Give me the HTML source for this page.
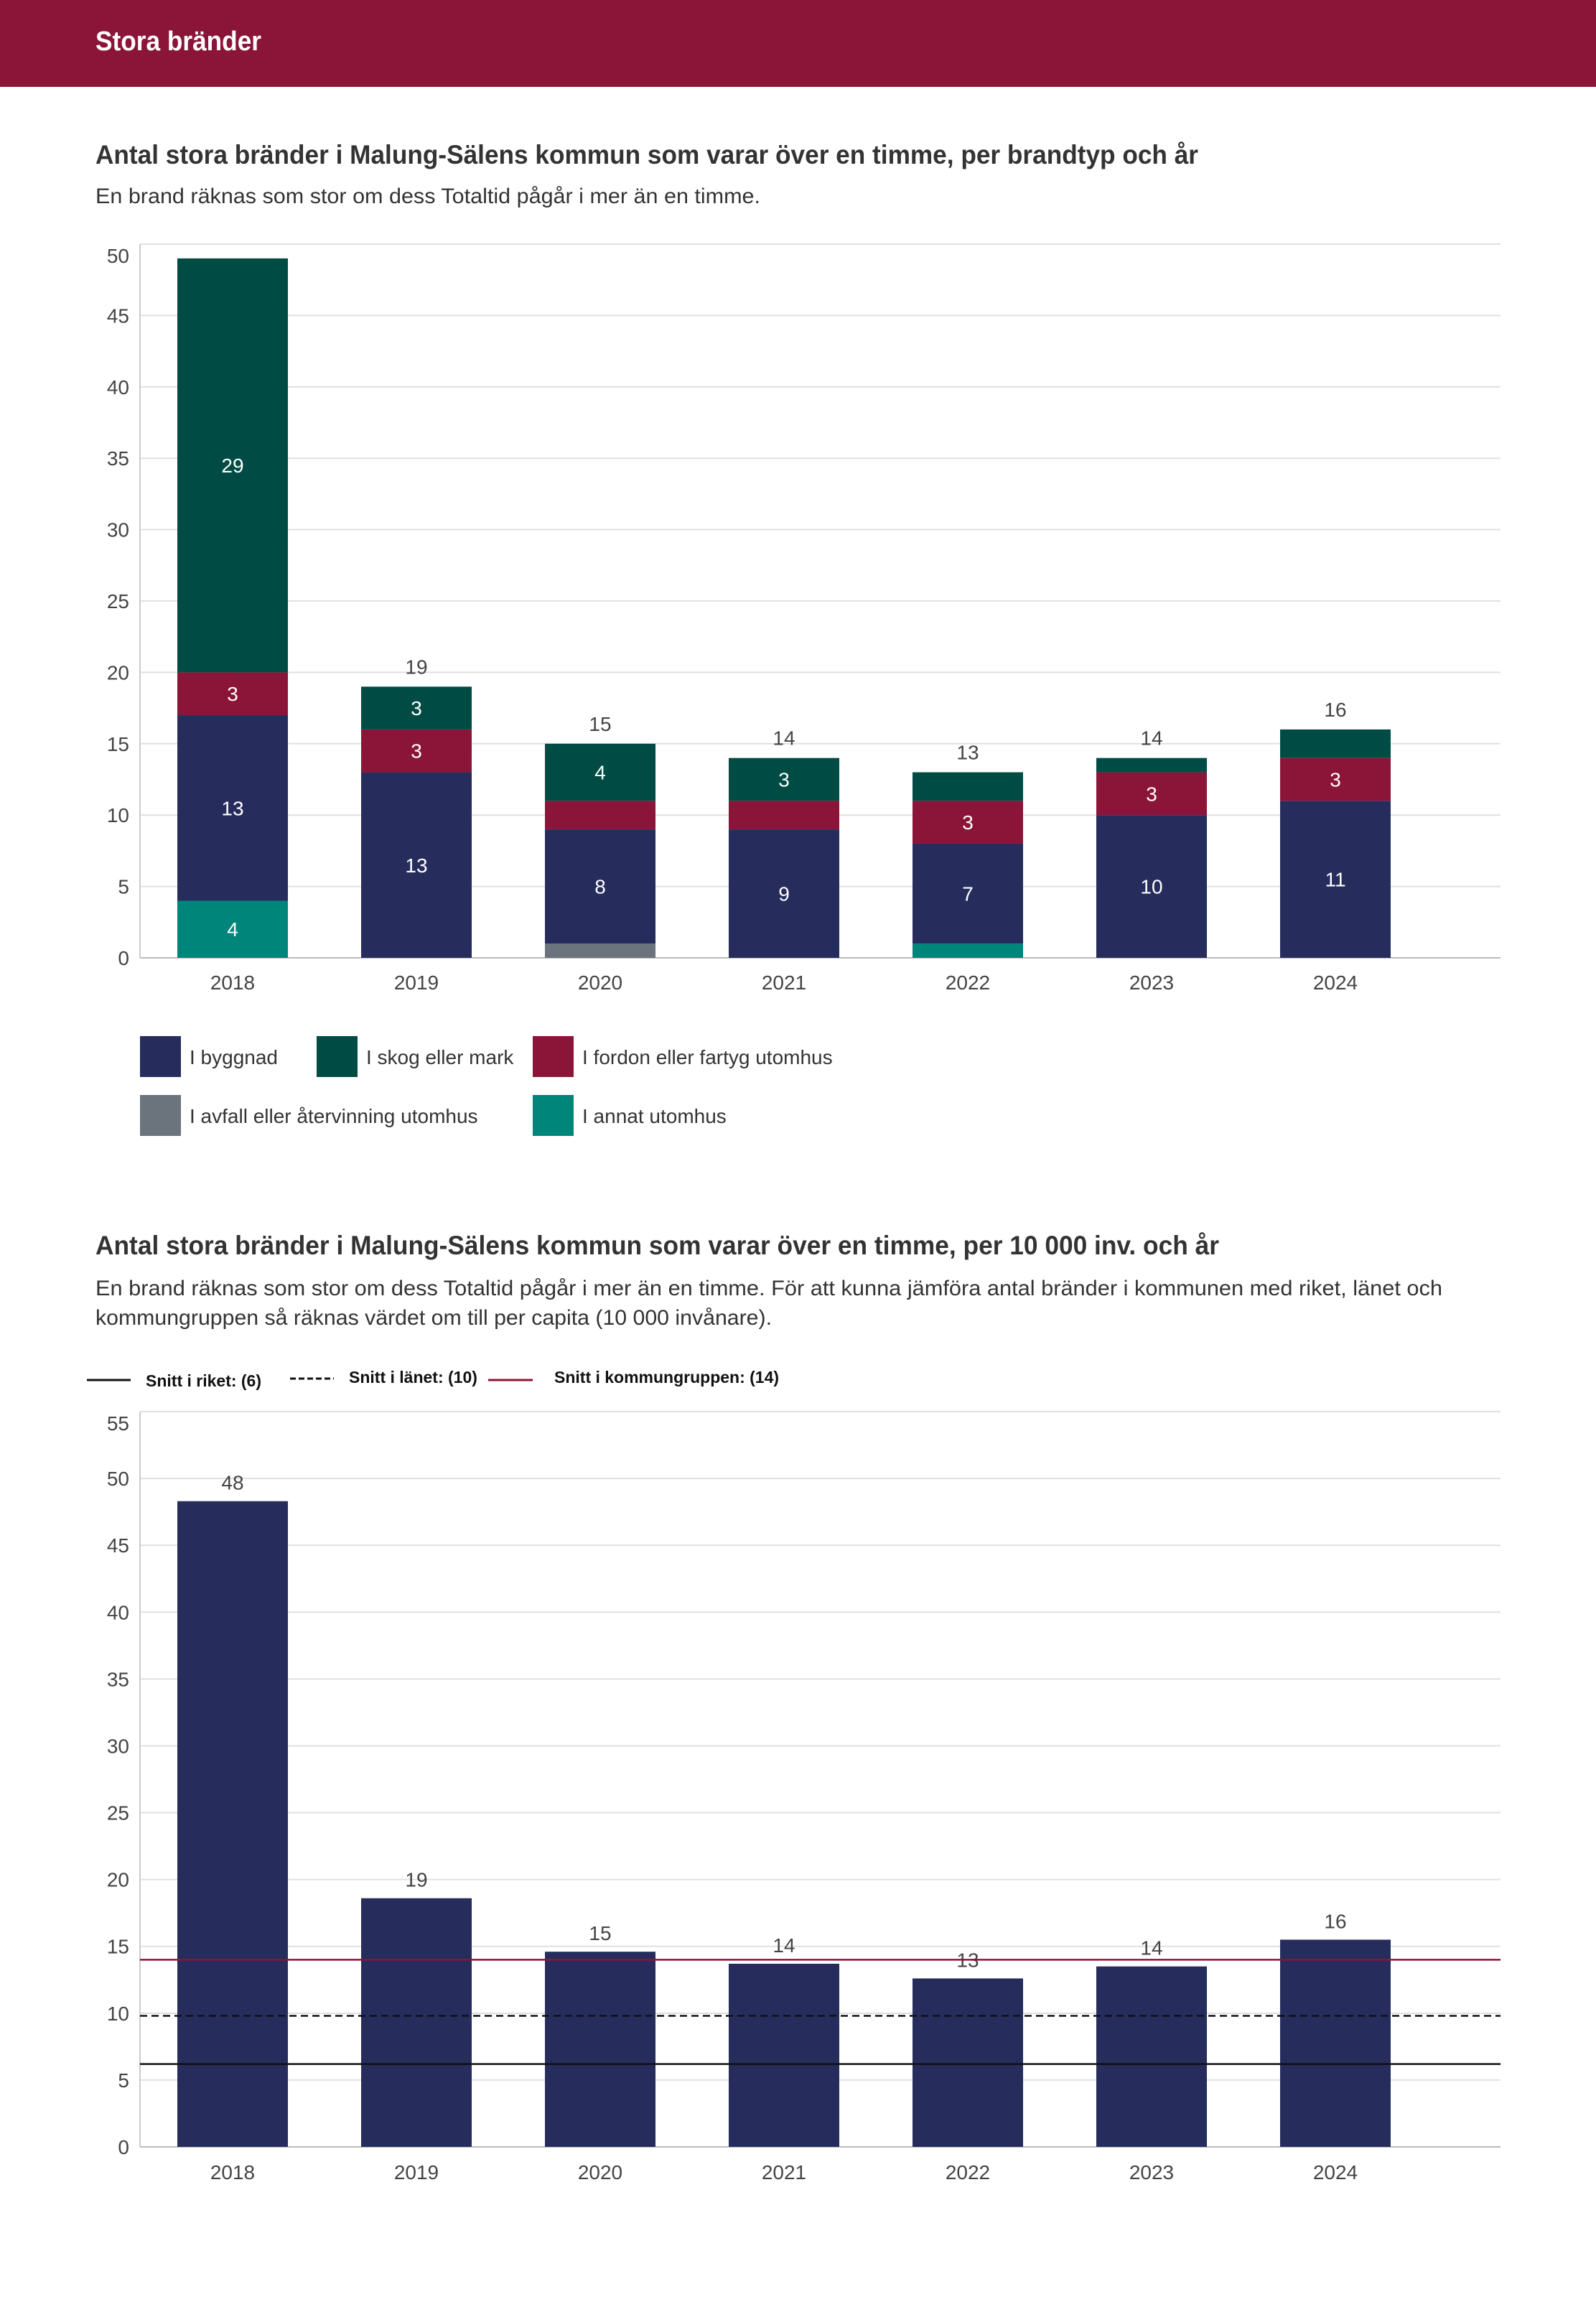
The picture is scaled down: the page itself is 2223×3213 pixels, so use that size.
<!DOCTYPE html>
<html><head><meta charset="utf-8"><style>
html,body{margin:0;padding:0;background:#fff}
svg{display:block}
text{font-family:"Liberation Sans",sans-serif}
</style></head><body>
<svg id="svg" width="2223" height="3213" viewBox="0 0 2223 3213" xmlns="http://www.w3.org/2000/svg">
<rect x="0" y="0" width="2223" height="121" fill="#8b1538"/>
<text x="133" y="70" font-size="38" fill="#fff" font-weight="bold" textLength="231" lengthAdjust="spacingAndGlyphs">Stora bränder</text>
<text x="133" y="228" font-size="37" fill="#333" font-weight="bold" textLength="1536" lengthAdjust="spacingAndGlyphs">Antal stora bränder i Malung-Sälens kommun som varar över en timme, per brandtyp och år</text>
<text x="133" y="283" font-size="30" fill="#333" textLength="926" lengthAdjust="spacingAndGlyphs">En brand räknas som stor om dess Totaltid pågår i mer än en timme.</text>
<g id="c1"></g>
<g id="leg1"></g>
<text x="133" y="1747" font-size="37" fill="#333" font-weight="bold" textLength="1565" lengthAdjust="spacingAndGlyphs">Antal stora bränder i Malung-Sälens kommun som varar över en timme, per 10 000 inv. och år</text>
<text x="133" y="1804" font-size="30" fill="#333" textLength="1876" lengthAdjust="spacingAndGlyphs">En brand räknas som stor om dess Totaltid pågår i mer än en timme. För att kunna jämföra antal bränder i kommunen med riket, länet och</text>
<text x="133" y="1845" font-size="30" fill="#333" textLength="942" lengthAdjust="spacingAndGlyphs">kommungruppen så räknas värdet om till per capita (10 000 invånare).</text>
<g>
<line x1="121" y1="1922" x2="182" y2="1922" stroke="#111" stroke-width="3"/>
<text x="203" y="1931" font-size="23" font-weight="bold" fill="#111">Snitt i riket: (6)</text>
<line x1="404" y1="1920" x2="465" y2="1920" stroke="#111" stroke-width="3" stroke-dasharray="8,4"/>
<text x="486" y="1926" font-size="23" font-weight="bold" fill="#111">Snitt i länet: (10)</text>
<line x1="680" y1="1922" x2="742" y2="1922" stroke="#8b1538" stroke-width="3"/>
<text x="772" y="1926" font-size="23" font-weight="bold" fill="#111">Snitt i kommungruppen: (14)</text>
</g>
<g id="c2"></g>
</svg>
<script>
const years = ["2018","2019","2020","2021","2022","2023","2024"];
const annat   = [4,0,0,0,1,0,0];
const avfall  = [0,0,1,0,0,0,0];
const byggnad = [13,13,8,9,7,10,11];
const fordon  = [3,3,2,2,3,3,3];
const skog    = [29,3,4,3,2,1,2];
const ticks1 = [0,5,10,15,20,25,30,35,40,45,50];
const perCapita = [48.3,18.6,14.6,13.7,12.6,13.5,15.5];
const perCapitaLabels = ["48","19","15","14","13","14","16"];
const ticks2 = [0,5,10,15,20,25,30,35,40,45,50,55];
const refRiket = 6.2, refLanet = 9.8, refGrupp = 14.0;

const NS = "http://www.w3.org/2000/svg";
function mk(parent, tag, attrs, txt){
  const e = document.createElementNS(NS, tag);
  for (const k in attrs) e.setAttribute(k, attrs[k]);
  if (txt !== undefined) e.textContent = txt;
  parent.appendChild(e);
  return e;
}
const L = 195, R = 2090, X0 = 324, STEP = 256, BW = 154;
function xc(i){ return X0 + i*STEP; }

// Chart 1
const c1 = document.getElementById('c1');
const y1 = v => 1334 - (v/50)*(1334-340);
ticks1.forEach(t => {
  const g = mk(c1,'line',{x1:L,x2:R,y1:y1(t),y2:y1(t),stroke: t===0?'#bbb':'#e0e0e0','stroke-width':2});
  
  
  const tx = mk(c1,'text',{x:180,y:Math.max(y1(t),y1(50)+16)+10,'font-size':28,fill:'#444','text-anchor':'end'},String(t));
  
  
});
const ax1 = mk(c1,'line',{x1:L,x2:L,y1:y1(50),y2:y1(0),stroke:'#ccc','stroke-width':2});


const series = [
  {name:'annat',data:annat,color:'#00857a'},
  {name:'avfall',data:avfall,color:'#6b737c'},
  {name:'byggnad',data:byggnad,color:'#262d5c'},
  {name:'fordon',data:fordon,color:'#8b1538'},
  {name:'skog',data:skog,color:'#004c45'}
];
years.forEach((yr,i) => {
  let base = 0;
  series.forEach(s => {
    const v = s.data[i];
    if (v<=0) return;
    const r = mk(c1,'rect',{x:xc(i)-BW/2,y:y1(base+v),width:BW,height:y1(base)-y1(base+v),fill:s.color});
    
    
    if (v>=3){
      const t = mk(c1,'text',{x:xc(i),y:(y1(base)+y1(base+v))/2+10,'font-size':28,fill:'#fff','text-anchor':'middle'},String(v));
      
      
    }
    base += v;
  });
  if (base < 45){
    const t = mk(c1,'text',{x:xc(i),y:y1(base)-18,'font-size':28,fill:'#444','text-anchor':'middle'},String(base));
    
    
  }
  const yl = mk(c1,'text',{x:xc(i),y:1378,'font-size':28,fill:'#444','text-anchor':'middle'},yr);
  
  
});
// Legend 1
const leg1 = document.getElementById('leg1');
const legItems = [
  ['I byggnad','#262d5c',195,1443],['I skog eller mark','#004c45',441,1443],['I fordon eller fartyg utomhus','#8b1538',742,1443],
  ['I avfall eller återvinning utomhus','#6b737c',195,1525],['I annat utomhus','#00857a',742,1525]
];
legItems.forEach(it => {
  const r = mk(leg1,'rect',{x:it[2],y:it[3],width:57,height:57,fill:it[1]});
  
  
  const t = mk(leg1,'text',{x:it[2]+69,y:it[3]+39,'font-size':28,fill:'#333'},it[0]);
  
  
});

// Chart 2
const c2 = document.getElementById('c2');
const y2 = v => 2990 - (v/55)*(2990-1966);
ticks2.forEach(t => {
  const g = mk(c2,'line',{x1:L,x2:R,y1:y2(t),y2:y2(t),stroke: t===0?'#bbb':'#e0e0e0','stroke-width':2});
  
  
  const tx = mk(c2,'text',{x:180,y:Math.max(y2(t),y2(55)+16)+10,'font-size':28,fill:'#444','text-anchor':'end'},String(t));
  
  
});
const ax2 = mk(c2,'line',{x1:L,x2:L,y1:y2(55),y2:y2(0),stroke:'#ccc','stroke-width':2});


years.forEach((yr,i) => {
  const v = perCapita[i];
  const r = mk(c2,'rect',{x:xc(i)-BW/2,y:y2(v),width:BW,height:y2(0)-y2(v),fill:'#262d5c'});
  
  
  const t = mk(c2,'text',{x:xc(i),y:y2(v)-16,'font-size':28,fill:'#444','text-anchor':'middle'},perCapitaLabels[i]);
  
  
  const yl = mk(c2,'text',{x:xc(i),y:3035,'font-size':28,fill:'#444','text-anchor':'middle'},yr);
  
  
});
const lr = mk(c2,'line',{x1:L,x2:R,y1:y2(refRiket),y2:y2(refRiket),stroke:'#111','stroke-width':2.5});


const ll = mk(c2,'line',{x1:L,x2:R,y1:y2(refLanet),y2:y2(refLanet),stroke:'#111','stroke-width':2.5,'stroke-dasharray':'10,6'});


const lg = mk(c2,'line',{x1:L,x2:R,y1:y2(refGrupp),y2:y2(refGrupp),stroke:'#8b1538','stroke-width':2.5});


</script>
</body></html>
